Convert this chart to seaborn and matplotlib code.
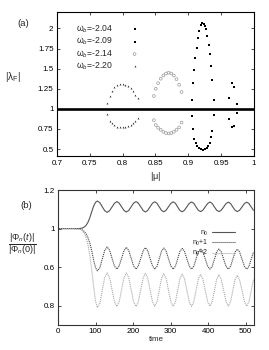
import numpy as np
import pandas as pd
import matplotlib
matplotlib.use("Agg")
import matplotlib.pyplot as plt
import seaborn as sns
from matplotlib.ticker import FixedLocator, FixedFormatter

# ---------------- data: panel (a) ----------------
mu_204 = [0.9623, 0.966, 0.970, 0.974, 0.9745, 0.9623, 0.966, 0.9695]
lam_204 = [1.14, 1.32, 1.266, 1.06, 0.947, 0.88, 0.77, 0.79]

mu_209 = [0.905, 0.9065, 0.9085, 0.9105, 0.913, 0.915, 0.9166, 0.9187, 0.9207,
          0.9237, 0.925, 0.9268, 0.9288, 0.931, 0.933, 0.9344, 0.9364, 0.9385,
          0.905, 0.9065, 0.909, 0.9115, 0.9135, 0.916, 0.919, 0.9225, 0.9256,
          0.928, 0.9305, 0.933, 0.935, 0.9365, 0.9385]
lam_209 = [1.11, 1.32, 1.48, 1.627, 1.76, 1.875, 1.97, 2.04, 2.07,
           2.055, 2.03, 1.99, 1.905, 1.80, 1.68, 1.535, 1.365, 1.11,
           0.91, 0.75, 0.63, 0.578, 0.54, 0.516, 0.50, 0.492, 0.496,
           0.512, 0.54, 0.58, 0.65, 0.72, 0.92]

mu_214 = [0.8475, 0.8505, 0.854, 0.858, 0.862, 0.866, 0.870, 0.874, 0.878, 0.882, 0.886, 0.8897,
          0.8475, 0.8505, 0.854, 0.858, 0.862, 0.866, 0.870, 0.874, 0.878, 0.882, 0.886, 0.8897]
lam_214 = [1.16, 1.25, 1.32, 1.375, 1.415, 1.44, 1.45, 1.44, 1.415, 1.37, 1.30, 1.21,
           0.86, 0.80, 0.765, 0.74, 0.715, 0.70, 0.695, 0.70, 0.715, 0.74, 0.77, 0.83]

mu_220 = [0.776, 0.780, 0.784, 0.787, 0.7915, 0.7956, 0.800, 0.804, 0.808, 0.812, 0.816, 0.8195, 0.823,
          0.776, 0.780, 0.784, 0.787, 0.7915, 0.7956, 0.800, 0.804, 0.808, 0.812, 0.816, 0.8195, 0.823]
lam_220 = [1.076, 1.16, 1.225, 1.27, 1.295, 1.31, 1.31, 1.30, 1.29, 1.26, 1.22, 1.17, 1.138,
           0.935, 0.852, 0.819, 0.794, 0.777, 0.769, 0.769, 0.773, 0.782, 0.80, 0.827, 0.852, 0.885]

unit_level = 1.0
a_xticks = [0.7, 0.75, 0.8, 0.85, 0.9, 0.95, 1.0]
a_xticklabels = ["0.7", "0.75", "0.8", "0.85", "0.9", "0.95", "1"]
a_yticks = [0.5, 0.75, 1.0, 1.25, 1.5, 1.75, 2.0]
a_yticklabels = ["0.5", "0.75", "1", "1.25", "1.5", "1.75", "2"]

# ---------------- data: panel (b) ----------------
time = [0, 20, 40, 55, 60, 65, 70, 75, 80, 85, 90, 95, 100, 105,
        111.5, 118, 124.5, 131, 137.5, 144, 150.5, 157, 163, 169.5, 176, 182,
        188.5, 195, 201.5, 208, 214, 220.5, 227, 233, 239, 245.5, 252, 258,
        264, 270, 276, 282, 288, 294.5, 301, 307, 313, 319, 325, 331,
        337, 343.5, 350, 356, 362, 368, 374, 380, 386, 392.5, 399, 405,
        411, 417, 423, 429, 435, 441.5, 448, 454, 460, 466, 472, 478,
        484, 490.5, 497, 503, 509, 515, 521]

phi_n0 = [1.0, 1.0, 1.0, 1.0, 1.001, 1.003, 1.008, 1.017, 1.033, 1.057, 1.088, 1.117, 1.136, 1.143,
          1.134, 1.113, 1.093, 1.084, 1.093, 1.112, 1.131, 1.140,
          1.132, 1.113, 1.094, 1.086, 1.094, 1.113, 1.132, 1.140,
          1.132, 1.113, 1.094, 1.086, 1.094, 1.113, 1.132, 1.139,
          1.131, 1.112, 1.094, 1.087, 1.095, 1.113, 1.131, 1.139,
          1.131, 1.112, 1.094, 1.087, 1.095, 1.113, 1.131, 1.138,
          1.131, 1.112, 1.095, 1.088, 1.095, 1.113, 1.130, 1.138,
          1.130, 1.112, 1.095, 1.088, 1.095, 1.112, 1.130, 1.137,
          1.130, 1.112, 1.095, 1.088, 1.095, 1.112, 1.130, 1.137,
          1.130, 1.112, 1.095]

phi_n1 = [1.0, 1.0, 1.0, 0.999, 0.997, 0.993, 0.985, 0.972, 0.952, 0.925, 0.884, 0.836, 0.797, 0.781,
          0.797, 0.842, 0.886, 0.905, 0.888, 0.846, 0.806, 0.790,
          0.806, 0.846, 0.886, 0.903, 0.887, 0.846, 0.806, 0.790,
          0.806, 0.845, 0.885, 0.901, 0.886, 0.845, 0.806, 0.790,
          0.805, 0.844, 0.883, 0.899, 0.884, 0.844, 0.805, 0.790,
          0.805, 0.843, 0.882, 0.897, 0.883, 0.843, 0.805, 0.790,
          0.805, 0.842, 0.880, 0.895, 0.881, 0.842, 0.805, 0.790,
          0.804, 0.841, 0.879, 0.894, 0.880, 0.841, 0.804, 0.790,
          0.804, 0.841, 0.878, 0.893, 0.879, 0.841, 0.804, 0.790,
          0.804, 0.841, 0.878]

phi_n2 = [1.0, 1.0, 1.0, 0.998, 0.995, 0.988, 0.975, 0.952, 0.915, 0.860, 0.785, 0.700, 0.625, 0.590,
          0.612, 0.680, 0.746, 0.770, 0.746, 0.683, 0.620, 0.596,
          0.620, 0.683, 0.746, 0.770, 0.746, 0.683, 0.620, 0.596,
          0.620, 0.682, 0.744, 0.768, 0.745, 0.682, 0.620, 0.597,
          0.620, 0.681, 0.743, 0.766, 0.743, 0.681, 0.620, 0.597,
          0.620, 0.680, 0.741, 0.764, 0.741, 0.680, 0.620, 0.597,
          0.620, 0.679, 0.739, 0.762, 0.739, 0.679, 0.620, 0.598,
          0.621, 0.679, 0.737, 0.760, 0.737, 0.679, 0.621, 0.598,
          0.621, 0.678, 0.735, 0.758, 0.735, 0.678, 0.621, 0.598,
          0.621, 0.678, 0.735]

b_xticks = [0, 100, 200, 300, 400, 500]
b_yticks = [0.6, 0.8, 1.0, 1.2]
b_yticklabels = ["0.8", "0.6", "1", "1.2"]

# ---------------- figure ----------------
sns.set_style("ticks")
plt.rcParams["font.family"] = ["Liberation Sans", "DejaVu Sans"]
plt.rcParams["mathtext.fontset"] = "custom"
plt.rcParams["mathtext.rm"] = "Liberation Sans"
plt.rcParams["mathtext.it"] = "Liberation Sans:italic"
plt.rcParams["mathtext.sf"] = "Liberation Sans"

fig = plt.figure(figsize=(2.69, 3.5), dpi=100)
axa = fig.add_axes([0.212, 0.554, 0.732, 0.4114])
axb = fig.add_axes([0.2156, 0.0714, 0.728, 0.3857])

TFS = 5.8

# panel (a)
axa.axhline(unit_level, color="black", lw=1.9, zorder=1)
sns.scatterplot(x=mu_204, y=lam_204, ax=axa, marker="s", s=4.0, color="black",
                edgecolor="black", linewidth=0, label=r"$\mathrm{\omega}_b$=-2.04", zorder=3)
sns.scatterplot(x=mu_209, y=lam_209, ax=axa, marker="s", s=3.2, color="black",
                edgecolor="black", linewidth=0, label=r"$\mathrm{\omega}_b$=-2.09", zorder=3)
sns.scatterplot(x=mu_214, y=lam_214, ax=axa, marker="o", s=4.0, facecolor="none",
                edgecolor="#9a9a9a", linewidth=0.5, label=r"$\mathrm{\omega}_b$=-2.14", zorder=3)
sns.scatterplot(x=mu_220, y=lam_220, ax=axa, marker="^", s=1.8, color="#222222",
                edgecolor="#222222", linewidth=0, label=r"$\mathrm{\omega}_b$=-2.20", zorder=3)

axa.set_xlim(0.7, 1.0)
axa.set_ylim(0.413, 2.203)
axa.xaxis.set_major_locator(FixedLocator(a_xticks))
axa.xaxis.set_major_formatter(FixedFormatter(a_xticklabels))
axa.yaxis.set_major_locator(FixedLocator(a_yticks))
axa.yaxis.set_major_formatter(FixedFormatter(a_yticklabels))
axa.set_xlabel(r"$|\mathrm{\mu}|$", fontsize=6.6, labelpad=2.5)
axa.set_ylabel(r"$|\mathrm{\lambda}_\mathrm{F}|$", fontsize=7.2, rotation=0, labelpad=0)
axa.yaxis.set_label_coords(-0.225, 0.5)
leg = axa.legend(loc="upper left", bbox_to_anchor=(0.075, 0.95), frameon=False,
                 markerfirst=False, fontsize=6.2, labelspacing=0.1,
                 handlelength=1.0, handletextpad=2.0, borderpad=0, markerscale=1.0)
fig.text(0.065, 0.925, "(a)", fontsize=6.8)

# panel (b)
sns.lineplot(x=time, y=phi_n0, ax=axb, color="#555555", lw=0.8, label=r"n$_0$")
sns.lineplot(x=time, y=phi_n1, ax=axb, color="#444444", lw=0.8,
             linestyle=(0, (1.0, 0.8)), label=r"n$_0$+1")
sns.lineplot(x=time, y=phi_n2, ax=axb, color="#aaaaaa", lw=0.8,
             linestyle=(0, (1.0, 0.8)), label=r"n$_0$+2")
axb.set_xlim(0, 522)
axb.set_ylim(0.5, 1.2)
axb.xaxis.set_major_locator(FixedLocator(b_xticks))
axb.yaxis.set_major_locator(FixedLocator(b_yticks))
axb.yaxis.set_major_formatter(FixedFormatter(b_yticklabels))
axb.set_xlabel("time", fontsize=TFS, labelpad=0.5)
axb.set_ylabel(r"$\frac{|\Phi_n(t)|}{|\Phi_n(0)|}$", fontsize=9.4, rotation=0, labelpad=0)
axb.yaxis.set_label_coords(-0.18, 0.5)
axb.legend(loc="upper right", bbox_to_anchor=(0.92, 0.74), frameon=False,
           markerfirst=False, fontsize=5.0, labelspacing=0.0,
           handlelength=3.2, handletextpad=0.6, borderpad=0)
fig.text(0.075, 0.405, "(b)", fontsize=6.8)

for ax, col in ((axa, "black"), (axb, "#333333")):
    for sp in ax.spines.values():
        sp.set_visible(True)
        sp.set_color(col)
        sp.set_linewidth(0.8)
    ax.tick_params(direction="in", top=True, right=True, length=2.2, width=0.5,
                   labelsize=TFS, pad=2.5, colors="black")

fig.savefig("out.png", dpi=100)
